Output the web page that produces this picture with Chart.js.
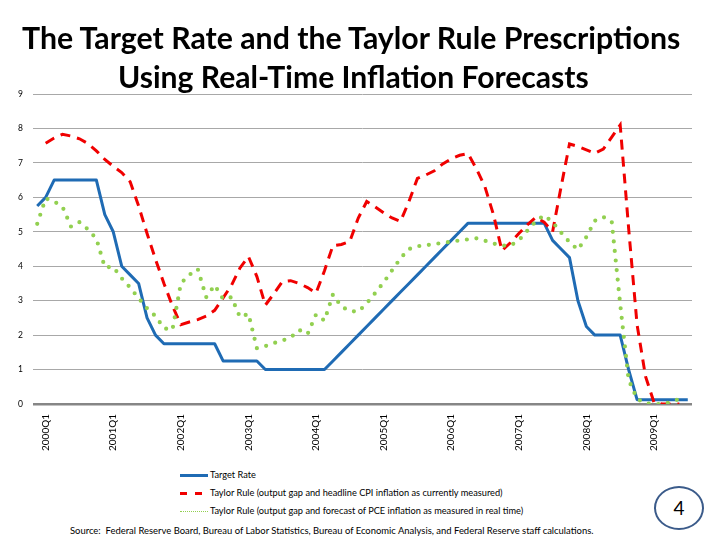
<!DOCTYPE html>
<html><head><meta charset="utf-8">
<script src="https://cdn.jsdelivr.net/npm/chart.js@4"></script>
<style>
html,body{margin:0;padding:0;background:#fff;}
#wrap{position:relative;width:721px;height:543px;overflow:hidden;font-family:Lato,"Open Sans",sans-serif;color:#000;}
#c{position:absolute;left:0;top:0;}
.t{position:absolute;white-space:nowrap;line-height:1;}
.sw{position:absolute;height:0;}
#circ{position:absolute;left:654px;top:486px;width:46px;height:40px;border:2px solid #3b5b8a;border-radius:50%;text-align:center;line-height:40px;font-size:19px;}
</style></head><body>
<div id="wrap">
<canvas id="c" width="721" height="460"></canvas>
<div id="t1" class="t" style="font-weight:700">The Target Rate and the Taylor Rule Prescriptions</div>
<div id="t2" class="t" style="font-weight:700">Using Real-Time Inflation Forecasts</div>
<div id="legend"></div>
<div id="src" class="t">Source:&nbsp; Federal Reserve Board, Bureau of Labor Statistics, Bureau of Economic Analysis, and Federal Reserve staff calculations.</div>
<div id="circ">4</div>
</div>
<script>
// FOMC meetings (categories)
const categories = [
 "Feb 2000","Mar 2000","May 2000","Jun 2000","Aug 2000","Oct 2000","Nov 2000","Dec 2000",
 "Jan 2001","Mar 2001","May 2001","Jun 2001","Aug 2001","Oct 2001","Nov 2001","Dec 2001",
 "Jan 2002","Mar 2002","May 2002","Jun 2002","Aug 2002","Sep 2002","Nov 2002","Dec 2002",
 "Jan 2003","Mar 2003","May 2003","Jun 2003","Aug 2003","Sep 2003","Oct 2003","Dec 2003",
 "Jan 2004","Mar 2004","May 2004","Jun 2004","Aug 2004","Sep 2004","Nov 2004","Dec 2004",
 "Feb 2005","Mar 2005","May 2005","Jun 2005","Aug 2005","Sep 2005","Nov 2005","Dec 2005",
 "Jan 2006","Mar 2006","May 2006","Jun 2006","Aug 2006","Sep 2006","Oct 2006","Dec 2006",
 "Jan 2007","Mar 2007","May 2007","Jun 2007","Aug 2007","Sep 2007","Oct 2007","Dec 2007",
 "Jan 2008","Mar 2008","Apr 2008","Jun 2008","Aug 2008","Sep 2008","Oct 2008","Dec 2008",
 "Jan 2009","Mar 2009","Apr 2009","Jun 2009","Aug 2009","Sep 2009"
];
const tickLabels = ["2000Q1","2001Q1","2002Q1","2003Q1","2004Q1","2005Q1","2006Q1","2007Q1","2008Q1","2009Q1"];
const yTicks = [0,1,2,3,4,5,6,7,8,9];

const targetRate = [
 5.75,6.0,6.5,6.5,6.5,6.5,6.5,6.5,
 5.5,5.0,4.0,3.75,3.5,2.5,2.0,1.75,
 1.75,1.75,1.75,1.75,1.75,1.75,1.25,1.25,
 1.25,1.25,1.25,1.0,1.0,1.0,1.0,1.0,
 1.0,1.0,1.0,1.25,1.5,1.75,2.0,2.25,
 2.5,2.75,3.0,3.25,3.5,3.75,4.0,4.25,
 4.5,4.75,5.0,5.25,5.25,5.25,5.25,5.25,
 5.25,5.25,5.25,5.25,5.25,4.75,4.5,4.25,
 3.0,2.25,2.0,2.0,2.0,2.0,1.0,0.125,
 0.125,0.125,0.125,0.125,0.125,0.125
];
const taylorCPI = [
 null,7.57,7.72,7.83,7.78,7.7,7.56,7.35,
 7.1,6.9,6.72,6.45,5.75,4.95,4.2,3.5,
 2.85,2.3,2.38,2.45,2.55,2.72,3.08,3.45,
 3.95,4.28,3.7,2.87,3.2,3.55,3.58,3.5,
 3.38,3.22,3.87,4.6,4.63,4.72,5.4,5.88,
 5.72,5.55,5.4,5.3,5.88,6.55,6.65,6.77,
 6.97,7.12,7.22,7.27,6.82,6.3,5.5,4.45,
 4.68,4.95,5.2,5.42,5.28,5.0,6.3,7.55,
 7.48,7.38,7.28,7.4,7.75,8.1,5.1,2.3,
 0.8,0.05,0.0,0.0,0.0,null
];
const taylorPCE = [
 5.23,5.97,5.88,5.72,5.15,5.28,5.07,4.8,
 3.97,3.98,3.65,3.38,3.07,2.78,2.55,2.2,
 2.15,3.5,3.75,3.92,3.1,3.45,3.05,3.1,
 2.52,2.62,1.62,1.68,1.77,1.84,1.93,2.15,
 2.03,2.6,2.42,3.18,2.83,2.7,2.68,2.92,
 3.22,3.53,3.88,4.23,4.5,4.58,4.61,4.64,
 4.68,4.71,4.75,4.78,4.81,4.74,4.66,4.6,
 4.6,4.75,5.03,5.3,5.48,5.28,4.98,4.7,
 4.48,4.85,5.32,5.43,5.3,2.9,0.7,0.15,
 0.02,0.0,0.0,0.05,0.15,null
];
const seriesNames = [
 "Target Rate",
 "Taylor Rule (output gap and headline CPI inflation as currently measured)",
 "Taylor Rule (output gap and forecast of PCE inflation as measured in real time)"
];
const BLUE="#1f6bb4", RED="#f00000", GREEN="#92d050";

new Chart(document.getElementById('c'), {
  type:'line',
  data:{
    labels:categories,
    datasets:[
      {label:seriesNames[0],data:targetRate,borderColor:BLUE,borderWidth:3,pointRadius:0,tension:0,order:2,borderJoinStyle:'round'},
      {label:seriesNames[1],data:taylorCPI,borderColor:RED,borderWidth:3,borderDash:[10,7],pointRadius:0,tension:0,order:1},
      {label:seriesNames[2],data:taylorPCE,borderColor:GREEN,borderWidth:4.2,borderDash:[0,9.6],borderCapStyle:'round',pointRadius:0,tension:0,order:0}
    ]
  },
  options:{
    responsive:false,animation:false,devicePixelRatio:1,
    layout:{padding:{top:94,right:29,left:0,bottom:0}},
    plugins:{legend:{display:false},tooltip:{enabled:false},title:{display:false}},
    scales:{
      x:{
        offset:true,
        grid:{display:false,drawTicks:false},
        border:{display:false},
        afterFit:(s)=>{s.height=56;},
        ticks:{autoSkip:false,minRotation:90,maxRotation:90,padding:10,color:'#000',
          font:{family:'Lato',size:10},
          callback:(v,i)=> (i%8===1)? tickLabels[(i-1)/8] : ''}
      },
      y:{
        min:0,max:9,
        afterFit:(s)=>{s.width=33;},
        afterBuildTicks:(s)=>{s.ticks=yTicks.map(v=>({value:v}));},
        border:{display:false},
        grid:{drawTicks:false,color:(c)=>c.tick&&c.tick.value===0?'#868686':'#a8a8a8',lineWidth:(c)=>c.tick&&c.tick.value===0?2.5:1},
        ticks:{padding:10,color:'#000',font:{family:'Lato',size:8.5}}
      }
    }
  }
});

// text layout helpers
const mctx=document.createElement('canvas').getContext('2d');
function fitText(el,weight,targetW){
  mctx.font=weight+' 100px Lato';
  const w=mctx.measureText(el.textContent).width;
  const s=100*targetW/w;
  el.style.fontSize=s+'px';
  return s;
}
function place(el,weight,x0,x1,baseline){
  const s=fitText(el,weight,x1-x0);
  el.style.left=x0+'px';
  el.style.top=(baseline-0.82*s)+'px';
}
place(document.getElementById('t1'),'700',22,683,47);
place(document.getElementById('t2'),'700',118,589,86);
place(document.getElementById('src'),'400',70,595,534);

// legend
const lg=document.getElementById('legend');
const rows=[475,493,511];
const widths=[46.7,301.7,314];
let fs=null;
seriesNames.forEach((n,i)=>{
  const d=document.createElement('div');d.className='t';d.textContent=n;lg.appendChild(d);
  if(fs===null){ mctx.font='400 100px Lato'; fs=100*widths[2]/mctx.measureText(seriesNames[2]).width; }
  d.style.fontSize=fs+'px';d.style.left='210px';d.style.top=(rows[i]-0.55*fs)+'px';
});
function sw(x,y,w,style){const e=document.createElement('div');e.className='sw';e.style.left=x+'px';e.style.top=y+'px';e.style.width=w+'px';e.style.borderTop=style;lg.appendChild(e);}
sw(180,rows[0]-1.5,28,'3px solid '+BLUE);
sw(180,rows[1]-1.5,7,'3px solid '+RED);
sw(195,rows[1]-1.5,7,'3px solid '+RED);
sw(180,rows[2]-0.5,28,'1px dotted '+GREEN);
</script>
</body></html>
